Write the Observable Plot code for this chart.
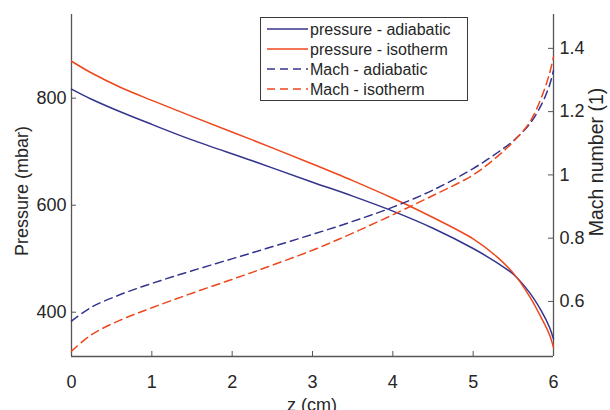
<!DOCTYPE html>
<html>
<head>
<meta charset="utf-8">
<script src="https://cdn.jsdelivr.net/npm/d3@7"></script>
<script src="https://cdn.jsdelivr.net/npm/@observablehq/plot@0.6"></script>
<style>
  html, body { margin: 0; padding: 0; background: white; }
</style>
</head>
<body>
<div id="chart"></div>
<script>
// ---- data ----
const zVals          = [0, 0.25, 0.6, 1, 1.5, 2.25, 3, 3.5, 4, 4.5, 5, 5.3, 5.5, 5.7, 5.85, 5.95, 6];
const pAdiabatic     = [817, 798, 775, 751, 722, 683, 643, 617, 589, 557, 519, 492, 471, 437, 402, 372, 350];
const pIsotherm      = [869, 847, 821, 796, 766, 722, 677, 646, 613, 577, 537, 503, 473, 430, 389, 358, 334];
const machAdiabatic  = [0.538, 0.582, 0.621, 0.657, 0.697, 0.754, 0.812, 0.853, 0.898, 0.952, 1.02, 1.07, 1.108, 1.16, 1.222, 1.283, 1.33];
const machIsotherm   = [0.443, 0.495, 0.54, 0.58, 0.626, 0.692, 0.762, 0.816, 0.874, 0.935, 1.0, 1.058, 1.105, 1.165, 1.245, 1.32, 1.373];

const xTicks    = [0, 1, 2, 3, 4, 5, 6];
const pTicks    = [400, 600, 800];
const machTicks = [0.6, 0.8, 1, 1.2, 1.4];

const xDomain    = [0, 6];
const pDomain    = [317.2, 956.4];
const machDomain = [0.426, 1.507];

const seriesNames = ["pressure - adiabatic", "pressure - isotherm", "Mach - adiabatic", "Mach - isotherm"];

// ---- styling ----
const BLUE = "#34348e";
const RED  = "#ee471c";
const AXIS = "#262626";
const AXLINE = "#555555";
const W = 610, H = 410;
const mL = 71, mR = 57, mT = 14, mB = 54;

// map Mach values onto the pressure (left) scale so both share one y scale
const toP   = m => pDomain[0] + (m - machDomain[0]) / (machDomain[1] - machDomain[0]) * (pDomain[1] - pDomain[0]);
const fromP = p => machDomain[0] + (p - pDomain[0]) / (pDomain[1] - pDomain[0]) * (machDomain[1] - machDomain[0]);

const rows = zVals.map((z, i) => ({
  z,
  pa: pAdiabatic[i], pi: pIsotherm[i],
  ma: toP(machAdiabatic[i]), mi: toP(machIsotherm[i])
}));

const fmtMach = v => { const r = Math.round(v * 10) / 10; return Number.isInteger(r) ? String(r) : r.toFixed(1); };

const frameH = H - mT - mB, frameW = W - mL - mR;
const tickLen = 5;

const plot = Plot.plot({
  width: W, height: H,
  marginLeft: mL, marginRight: mR, marginTop: mT, marginBottom: mB,
  style: { fontFamily: "'Liberation Sans', Arial, Helvetica, sans-serif", fontSize: "18px", color: AXIS, background: "white", overflow: "visible" },
  x: { domain: xDomain, label: null },
  y: { domain: pDomain, label: null },
  marks: [
    // axis lines (no box on top)
    Plot.ruleX([xDomain[0]], { stroke: AXLINE, strokeWidth: 1.3 }),
    Plot.ruleX([xDomain[1]], { stroke: AXLINE, strokeWidth: 1.3 }),
    Plot.ruleY([pDomain[0]], { stroke: AXLINE, strokeWidth: 1.3 }),
    // inward tick marks
    Plot.ruleX(xTicks, { stroke: AXLINE, strokeWidth: 1, insetTop: frameH - tickLen }),
    Plot.ruleY(pTicks, { stroke: AXLINE, strokeWidth: 1, insetRight: frameW - tickLen }),
    Plot.ruleY(machTicks.map(toP), { stroke: AXLINE, strokeWidth: 1, insetLeft: frameW - tickLen }),
    // tick labels
    Plot.axisX(xTicks, { anchor: "bottom", tickSize: 0, tickPadding: 19, label: null, fontSize: 18, fill: AXIS }),
    Plot.axisY(pTicks, { anchor: "left", tickSize: 0, tickPadding: 5, label: null, fontSize: 18, fill: AXIS }),
    Plot.axisY(machTicks.map(toP), { anchor: "right", tickSize: 0, tickPadding: 6, label: null, fontSize: 18, fill: AXIS, tickFormat: p => fmtMach(fromP(p)) }),
    // series
    Plot.line(rows, { x: "z", y: "pa", stroke: BLUE, strokeWidth: 1.5, curve: "catmull-rom" }),
    Plot.line(rows, { x: "z", y: "pi", stroke: RED, strokeWidth: 1.5, curve: "catmull-rom" }),
    Plot.line(rows, { x: "z", y: "ma", stroke: BLUE, strokeWidth: 1.5, strokeDasharray: "8,5", curve: "catmull-rom" }),
    Plot.line(rows, { x: "z", y: "mi", stroke: RED, strokeWidth: 1.5, strokeDasharray: "8,5", curve: "catmull-rom" })
  ]
});

const svg = d3.select(plot);

// axis titles
svg.append("text")
  .attr("transform", "translate(28,191) rotate(-90)")
  .attr("text-anchor", "middle")
  .attr("fill", AXIS)
  .style("font-size", "18px")
  .text("Pressure (mbar)");
svg.append("text")
  .attr("transform", "translate(603,162) rotate(-90)")
  .attr("text-anchor", "middle")
  .attr("fill", AXIS)
  .style("font-size", "19.5px")
  .text("Mach number (1)");
svg.append("text")
  .attr("x", 312).attr("y", 411)
  .attr("text-anchor", "middle")
  .attr("fill", AXIS)
  .style("font-size", "18px")
  .text("z (cm)");

// legend
const lg = svg.append("g");
lg.append("rect")
  .attr("x", 260.5).attr("y", 17.5).attr("width", 207).attr("height", 83)
  .attr("fill", "white").attr("stroke", "#3a3a3a").attr("stroke-width", 1);
const legendStyles = [
  { stroke: BLUE, dash: null },
  { stroke: RED, dash: null },
  { stroke: BLUE, dash: "8,5" },
  { stroke: RED, dash: "8,5" }
];
seriesNames.forEach((name, i) => {
  const y = 29 + i * 20;
  lg.append("line")
    .attr("x1", 267).attr("x2", 308).attr("y1", y).attr("y2", y)
    .attr("stroke", legendStyles[i].stroke).attr("stroke-width", 1.5)
    .attr("stroke-dasharray", legendStyles[i].dash);
  lg.append("text")
    .attr("x", 310).attr("y", y).attr("dy", "0.35em")
    .attr("text-anchor", "start")
    .attr("fill", AXIS)
    .style("font-size", "16px")
    .text(name);
});

document.getElementById("chart").appendChild(plot);
</script>
</body>
</html>
